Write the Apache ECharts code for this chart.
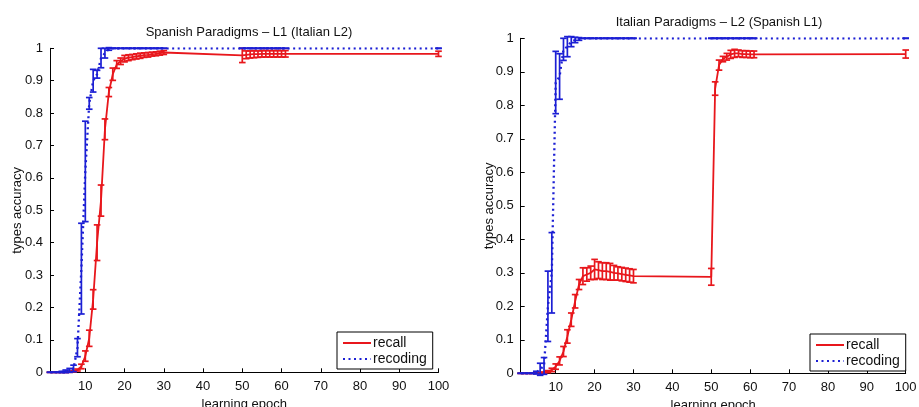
<!DOCTYPE html>
<html>
<head>
<meta charset="utf-8">
<script src="https://cdn.jsdelivr.net/npm/echarts@6/dist/echarts.min.js"></script>
<style>html,body{margin:0;padding:0;background:#fff;}#c{width:919px;height:407px;}</style>
</head>
<body>
<div id="c"></div>
<script>
// ---- data ----
const epochs = [1,2,3,4,5,6,7,8,9,10,11,12,13,14,15,16,17,18,19,20,21,22,23,24,25,26,27,28,29,30,50,51,52,53,54,55,56,57,58,59,60,61,100];

const spRecall    = [0,0,0,0,0,0.001,0.003,0.007,0.018,0.05,0.105,0.225,0.4,0.53,0.75,0.865,0.92,0.95,0.96,0.968,0.971,0.973,0.975,0.977,0.979,0.98,0.982,0.983,0.985,0.987,0.978,0.98,0.981,0.982,0.982,0.983,0.983,0.983,0.983,0.983,0.983,0.983,0.983];
const spRecallErr = [0,0,0,0,0,0.001,0.002,0.003,0.007,0.016,0.025,0.03,0.055,0.048,0.032,0.014,0.019,0.012,0.01,0.01,0.009,0.008,0.008,0.008,0.007,0.007,0.006,0.006,0.006,0.006,0.022,0.012,0.011,0.011,0.01,0.01,0.01,0.01,0.01,0.01,0.01,0.01,0.008];
const spRecoding    = [0,0,0,0.001,0.003,0.006,0.012,0.076,0.32,0.62,0.83,0.9,0.92,0.97,0.985,0.998,1,1,1,1,1,1,1,1,1,1,1,1,1,1,1,1,1,1,1,1,1,1,1,1,1,1,1];
const spRecodingErr = [0,0,0,0.002,0.004,0.006,0.01,0.028,0.14,0.155,0.018,0.035,0.012,0.03,0.015,0.004,0,0,0,0,0,0,0,0,0,0,0,0,0,0,0,0,0,0,0,0,0,0,0,0,0,0,0];

const itRecall    = [0,0,0,0,0,0,0.002,0.005,0.01,0.02,0.037,0.065,0.11,0.16,0.215,0.265,0.29,0.295,0.3,0.31,0.308,0.305,0.305,0.303,0.3,0.298,0.296,0.294,0.292,0.29,0.288,0.85,0.92,0.938,0.945,0.952,0.955,0.955,0.953,0.953,0.952,0.952,0.953];
const itRecallErr = [0,0,0,0,0,0,0.002,0.003,0.005,0.008,0.012,0.015,0.02,0.02,0.02,0.015,0.025,0.02,0.02,0.03,0.025,0.025,0.025,0.025,0.022,0.02,0.02,0.02,0.02,0.02,0.025,0.02,0.015,0.008,0.01,0.012,0.012,0.01,0.01,0.01,0.01,0.01,0.012];
const itRecoding    = [0,0,0,0,0.002,0.012,0.022,0.2,0.3,0.868,0.886,0.967,0.975,0.99,0.995,0.998,1,1,1,1,1,1,1,1,1,1,1,1,1,1,1,1,1,1,1,1,1,1,1,1,1,1,1];
const itRecodingErr = [0,0,0,0,0.004,0.018,0.025,0.105,0.12,0.093,0.068,0.033,0.03,0.015,0.008,0.004,0,0,0,0,0,0,0,0,0,0,0,0,0,0,0,0,0,0,0,0,0,0,0,0,0,0,0];

const xTicks = [10,20,30,40,50,60,70,80,90,100];
const yTicks = [0,0.1,0.2,0.3,0.4,0.5,0.6,0.7,0.8,0.9,1];
const titles = ['Spanish Paradigms \u2013 L1 (Italian L2)', 'Italian Paradigms \u2013 L2 (Spanish L1)'];
const seriesNames = ['recall', 'recoding'];
const xName = 'learning epoch';
const yName = 'types accuracy';

// ---- styling ----
const RED = '#e8171c';
const BLUE = '#1c1fd4';
const FONT = 'Liberation Sans, Arial, sans-serif';

function pts(vals){ return epochs.map((x,i)=>[x, vals[i]]); }
function errPts(vals, errs){ return epochs.map((x,i)=>[x, vals[i], errs[i]]); }

function errRender(color){
  return function(params, api){
    const x = api.value(0), m = api.value(1), e = api.value(2);
    const t = api.coord([x, m + e]);
    const b = api.coord([x, m - e]);
    const w = 3.3;
    const st = {stroke: color, lineWidth: 1.7, fill: null};
    return {type:'group', children:[
      {type:'line', shape:{x1:t[0], y1:t[1], x2:b[0], y2:b[1]}, style:st},
      {type:'line', shape:{x1:t[0]-w, y1:t[1], x2:t[0]+w, y2:t[1]}, style:st},
      {type:'line', shape:{x1:b[0]-w, y1:b[1], x2:b[0]+w, y2:b[1]}, style:st}
    ]};
  };
}

const grids = [
  {left:50, right:480.5, top:48.3, bottom:34.7, containLabel:false, outerBoundsMode:'none'},
  {left:520.7, right:13.3, top:38.3, bottom:33.7, containLabel:false, outerBoundsMode:'none'}
];

function xAxisFor(i){
  return {
    type:'value', gridIndex:i, min:1, max:100,
    name:xName, nameLocation:'middle', nameGap:25,
    nameTextStyle:{fontFamily:FONT, fontSize:13, color:'#111'},
    axisLine:{show:true, onZero:false, lineStyle:{color:'#000', width:1}},
    axisTick:{show:true, inside:true, length:4, customValues:xTicks, lineStyle:{color:'#000'}},
    axisLabel:{show:true, customValues:xTicks, margin:8, fontFamily:FONT, fontSize:13, color:'#111'},
    splitLine:{show:false}
  };
}
function yAxisFor(i, gap){
  return {
    type:'value', gridIndex:i, min:0, max:1,
    name:yName, nameLocation:'middle', nameGap:gap, nameMoveOverlap:false,
    nameTextStyle:{fontFamily:FONT, fontSize:13, color:'#111'},
    axisLine:{show:true, onZero:false, lineStyle:{color:'#000', width:1}},
    axisTick:{show:true, inside:true, length:4, customValues:yTicks, lineStyle:{color:'#000'}},
    axisLabel:{show:true, customValues:yTicks, margin:7, fontFamily:FONT, fontSize:13, color:'#111'},
    splitLine:{show:false}
  };
}

const datasets = [
  {rec:spRecall, recE:spRecallErr, cod:spRecoding, codE:spRecodingErr},
  {rec:itRecall, recE:itRecallErr, cod:itRecoding, codE:itRecodingErr}
];

const series = [];
datasets.forEach((d, i) => {
  series.push({name:seriesNames[0], type:'line', xAxisIndex:i, yAxisIndex:i, data:pts(d.rec),
    symbol:'none', lineStyle:{color:RED, width:1.8}, itemStyle:{color:RED}, z:2, animation:false});
  series.push({name:seriesNames[0]+'-err'+i, type:'custom', xAxisIndex:i, yAxisIndex:i, data:errPts(d.rec, d.recE),
    renderItem:errRender(RED), encode:{x:0, y:1}, z:3, animation:false, silent:true});
  series.push({name:seriesNames[1], type:'line', xAxisIndex:i, yAxisIndex:i, data:pts(d.cod),
    symbol:'none', lineStyle:{color:BLUE, width:2.3, type:[2,3.5]}, itemStyle:{color:BLUE}, z:4, animation:false});
  series.push({name:seriesNames[1]+'-err'+i, type:'custom', xAxisIndex:i, yAxisIndex:i, data:errPts(d.cod, d.codE),
    renderItem:errRender(BLUE), encode:{x:0, y:1}, z:5, animation:false, silent:true});
});

function legendFor(left, top){
  return {
    data:seriesNames, orient:'vertical', left:left, top:top,
    backgroundColor:'#fff', borderColor:'#000', borderWidth:1,
    padding:[4,6,3,5], itemGap:2, itemWidth:28, itemHeight:14,
    itemStyle:{opacity:0},
    textStyle:{fontFamily:FONT, fontSize:14, color:'#111', padding:[0,0,0,-3]},
    selectedMode:false, z:10
  };
}

const option = {
  animation:false,
  backgroundColor:'#fff',
  title:[
    {text:titles[0], left:244, top:21, textAlign:'center', textStyle:{fontFamily:FONT, fontSize:13, fontWeight:'normal', color:'#111'}},
    {text:titles[1], left:714, top:11, textAlign:'center', textStyle:{fontFamily:FONT, fontSize:13, fontWeight:'normal', color:'#111'}}
  ],
  grid:grids,
  xAxis:[xAxisFor(0), xAxisFor(1)],
  yAxis:[yAxisFor(0, 26), yAxisFor(1, 25)],
  legend:[legendFor(337, 332), legendFor(810, 334)],
  series:series
};

const chart = echarts.init(document.getElementById('c'), null, {renderer:'canvas'});
chart.setOption(option);
</script>
</body>
</html>
